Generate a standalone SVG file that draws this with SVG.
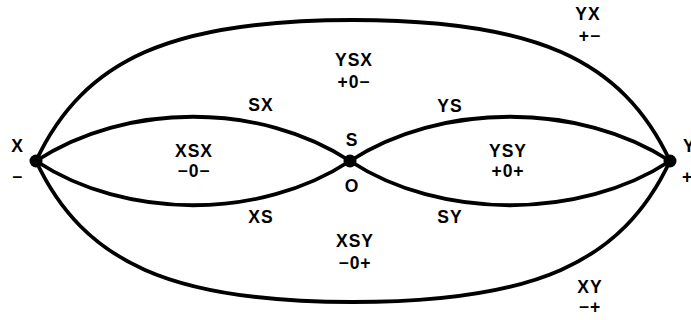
<svg xmlns="http://www.w3.org/2000/svg" width="691" height="320" viewBox="0 0 691 320">
<style>
.e{fill:none;stroke:#000;stroke-width:3.8;stroke-linecap:round}
.d{fill:#000}
text{font-family:"Liberation Sans",Arial,sans-serif;font-weight:bold;font-size:17.5px;fill:#000;text-anchor:middle;letter-spacing:1px}
</style>
<rect width="691" height="320" fill="#fff"/>
<g id="connectors">
<path class="e" d="M36,161 C84,58.6 173,20 353,20 C533,20 622,58.6 670,161"/>
<path class="e" d="M36,161 C84,263.4 173,302 353,302 C533,302 622,263.4 670,161"/>
<path class="e" d="M36,161 C126,102 260,102 350,161"/>
<path class="e" d="M36,161 C126,220 260,220 350,161"/>
<path class="e" d="M350,161 C440,102 580,102 670,161"/>
<path class="e" d="M350,161 C440,220 580,220 670,161"/>
</g>
<g id="node-X"><circle class="d" cx="36" cy="161" r="6.5"/><text x="17.5" y="152">X</text><text x="17.5" y="183">−</text></g>
<g id="node-S"><circle class="d" cx="350" cy="161" r="6.5"/><text x="352" y="146">S</text><text x="352" y="192">O</text></g>
<g id="node-Y"><circle class="d" cx="670" cy="161" r="6.5"/><text x="683" y="152" style="text-anchor:start">Y</text><text x="682" y="183" style="text-anchor:start">+</text></g>
<g id="region-YX"><text x="588" y="20">YX</text><text x="590" y="42">+−</text></g>
<g id="region-YSX"><text x="354" y="66">YSX</text><text x="354" y="88">+0−</text></g>
<g id="region-XSX"><text x="194" y="157">XSX</text><text x="194" y="177">−0−</text></g>
<g id="region-YSY"><text x="508" y="157">YSY</text><text x="508" y="177">+0+</text></g>
<g id="region-XSY"><text x="355" y="247">XSY</text><text x="355" y="269">−0+</text></g>
<g id="region-XY"><text x="590" y="293">XY</text><text x="590" y="313">−+</text></g>
<g id="edge-labels">
<text x="261" y="111">SX</text>
<text x="450" y="112">YS</text>
<text x="261" y="223">XS</text>
<text x="450" y="223">SY</text>
</g>
</svg>
